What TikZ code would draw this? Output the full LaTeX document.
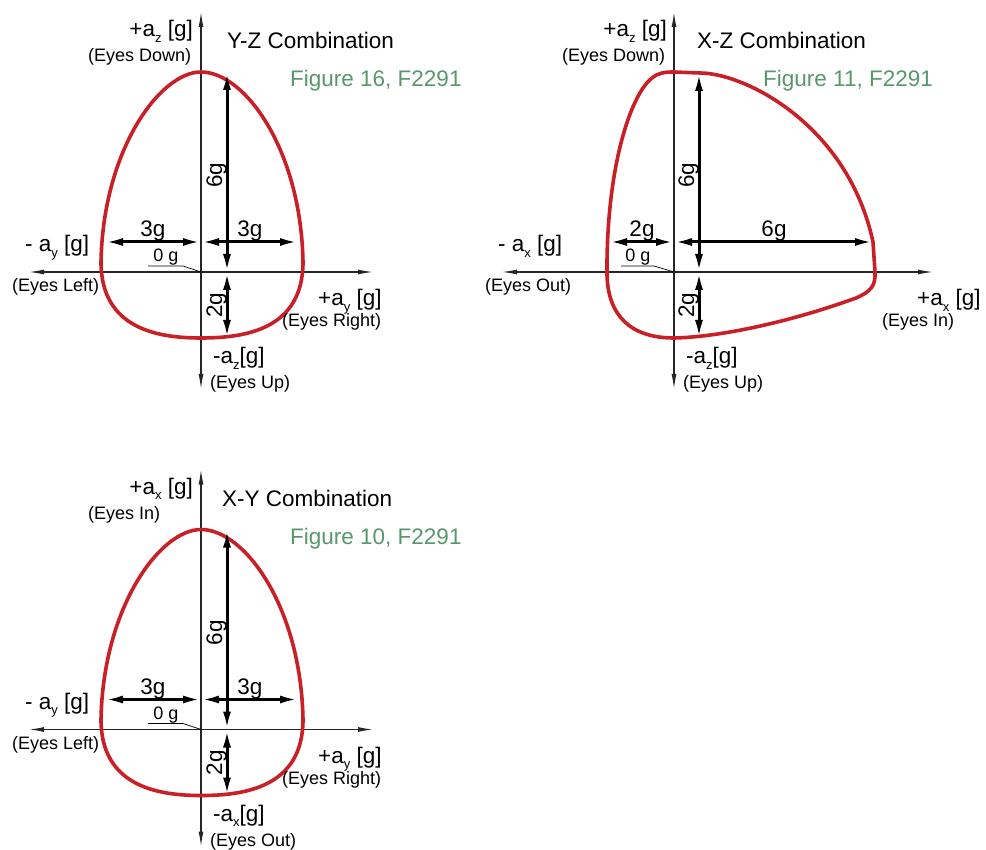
\documentclass[tikz,border=0pt]{standalone}
\usepackage{fontspec}
\setmainfont{Liberation Sans}
\usetikzlibrary{arrows.meta}
\definecolor{curvered}{RGB}{200,32,38}
\definecolor{figgreen}{RGB}{88,150,108}
\newcommand{\sbs}[1]{\raisebox{-0.45ex}{\fontsize{13}{13}\selectfont #1}}
\tikzset{
  axisline/.style={line width=1.2pt, draw=black!85, {Latex[length=15pt,width=5pt]}-{Latex[length=15pt,width=5pt]}},
  dimline/.style={line width=3pt, {Latex[length=18pt,width=8pt]}-{Latex[length=18pt,width=8pt]}},
  envelope/.style={draw=curvered, line width=3.6pt, line join=round},
  big/.style={font=\fontsize{22.5}{24}\selectfont, inner sep=0pt},
  mid/.style={font=\fontsize{18}{20}\selectfont, inner sep=0pt},
  fig/.style={big, text=figgreen},
  leader/.style={line width=0.7pt},
}
% symmetric egg diagram (axes origin at 201,272)
\newcommand{\eggplot}[1]{%
  \coordinate (#1-O) at (201,272);
  \coordinate (#1-N) at (201,12);
  \coordinate (#1-S) at (201,389);
  \coordinate (#1-W) at (29,272);
  \coordinate (#1-E) at (373,272);
  \draw[axisline] (#1-S) -- (#1-N);
  \draw[axisline] (#1-W) -- (#1-E);
  \draw[envelope] (201,72) .. controls (160,72) and (103,150) .. (101,262)
     .. controls (101,330) and (160,338) .. (201,338)
     .. controls (244,338) and (303,330) .. (303,262)
     .. controls (301,150) and (245,72) .. (201,72) -- cycle;
  \coordinate (#1-dT) at (227,72);
  \coordinate (#1-dO) at (227,272);
  \coordinate (#1-dB) at (227,338);
  \coordinate (#1-hL) at (105,242);
  \coordinate (#1-hO) at (201,242);
  \coordinate (#1-hR) at (298,242);
  \draw[dimline] (#1-dT) -- (#1-dO);
  \draw[dimline] (#1-dO) -- (#1-dB);
  \draw[dimline] (#1-hL) -- (#1-hO);
  \draw[dimline] (#1-hO) -- (#1-hR);
  \node[big, rotate=90, anchor=base] (#1-l6) at (222,175) {6g};
  \node[big, rotate=90, anchor=base] (#1-l2) at (222,305) {2g};
  \node[big, anchor=base] (#1-l3a) at (153,237) {3g};
  \node[big, anchor=base] (#1-l3b) at (250,237) {3g};
  \node[mid, anchor=base] (#1-zero) at (166,262) {0 g};
  \coordinate (#1-lk) at (183,266);
  \coordinate (#1-ls) at (148,266);
  \draw[leader] (#1-ls) -- (#1-lk) -- (#1-O);
}
\begin{document}
\begin{tikzpicture}[x=1pt, y=-1pt]
\useasboundingbox (0,0) rectangle (986,850);

% ---------- Y-Z (top left)
\eggplot{tl}
\node[big, anchor=base east] (tl-az) at (193,37) {+a\sbs{z} [g]};
\node[mid, anchor=base west] (tl-down) at (88,62) {(Eyes Down)};
\node[big, anchor=base west] (tl-title) at (227,49) {Y-Z Combination};
\node[fig, anchor=base west] (tl-fig) at (290,87) {Figure 16, F2291};
\node[big, anchor=base west] (tl-may) at (25,252) {- a\sbs{y} [g]};
\node[mid, anchor=base west] (tl-left) at (12,292) {(Eyes Left)};
\node[big, anchor=base west] (tl-pay) at (318,306) {+a\sbs{y} [g]};
\node[mid, anchor=base west] (tl-right) at (282,327) {(Eyes Right)};
\node[big, anchor=base west] (tl-maz) at (213,364) {-a\sbs{z}[g]};
\node[mid, anchor=base west] (tl-up) at (210,389) {(Eyes Up)};

% ---------- X-Z (top right)
\coordinate (tr-O) at (674,272);
\coordinate (tr-N) at (674,12);
\coordinate (tr-S) at (674,389);
\coordinate (tr-W) at (502,272);
\coordinate (tr-E) at (933,272);
\draw[axisline] (tr-S) -- (tr-N);
\draw[axisline] (tr-W) -- (tr-E);
\draw[envelope] (700,73) .. controls (745,73) and (848,125) .. (873,242)
   -- (875,272) .. controls (876,286) and (870,292) .. (856,298)
   .. controls (790,322) and (720,337) .. (674,338)
   .. controls (630,338) and (608,315) .. (607,275)
   .. controls (606,170) and (630,95) .. (652,78)
   .. controls (658,73) and (664,72) .. (674,72) -- cycle;
\coordinate (tr-dT) at (699,73);
\coordinate (tr-dO) at (699,272);
\coordinate (tr-dB) at (699,338);
\coordinate (tr-hL) at (609,242);
\coordinate (tr-hO) at (674,242);
\coordinate (tr-hR) at (873,242);
\draw[dimline] (tr-dT) -- (tr-dO);
\draw[dimline] (tr-dO) -- (tr-dB);
\draw[dimline] (tr-hL) -- (tr-hO);
\draw[dimline] (tr-hO) -- (tr-hR);
\node[big, rotate=90, anchor=base] (tr-l6) at (694,175) {6g};
\node[big, rotate=90, anchor=base] (tr-l2) at (694,305) {2g};
\node[big, anchor=base] (tr-l2h) at (642,237) {2g};
\node[big, anchor=base] (tr-l6h) at (774,237) {6g};
\node[mid, anchor=base] (tr-zero) at (638,262) {0 g};
\coordinate (tr-lk) at (654,266);
\coordinate (tr-ls) at (621,266);
\draw[leader] (tr-ls) -- (tr-lk) -- (tr-O);
\node[big, anchor=base east] (tr-az) at (667,37) {+a\sbs{z} [g]};
\node[mid, anchor=base west] (tr-down) at (562,62) {(Eyes Down)};
\node[big, anchor=base west] (tr-title) at (697,49) {X-Z Combination};
\node[fig, anchor=base west] (tr-fig) at (763,87) {Figure 11, F2291};
\node[big, anchor=base west] (tr-max) at (498,252) {- a\sbs{x} [g]};
\node[mid, anchor=base west] (tr-out) at (485,292) {(Eyes Out)};
\node[big, anchor=base west] (tr-pax) at (917,306) {+a\sbs{x} [g]};
\node[mid, anchor=base west] (tr-in) at (882,327) {(Eyes In)};
\node[big, anchor=base west] (tr-maz) at (686,364) {-a\sbs{z}[g]};
\node[mid, anchor=base west] (tr-up) at (683,389) {(Eyes Up)};

% ---------- X-Y (bottom left)
\begin{scope}[shift={(0,457.5)}]
\eggplot{bl}
\node[big, anchor=base east] (bl-ax) at (193,37) {+a\sbs{x} [g]};
\node[mid, anchor=base west] (bl-in) at (88,62) {(Eyes In)};
\node[big, anchor=base west] (bl-title) at (222,49) {X-Y Combination};
\node[fig, anchor=base west] (bl-fig) at (290,87) {Figure 10, F2291};
\node[big, anchor=base west] (bl-may) at (25,252) {- a\sbs{y} [g]};
\node[mid, anchor=base west] (bl-left) at (12,292) {(Eyes Left)};
\node[big, anchor=base west] (bl-pay) at (318,306) {+a\sbs{y} [g]};
\node[mid, anchor=base west] (bl-right) at (282,327) {(Eyes Right)};
\node[big, anchor=base west] (bl-max) at (213,364) {-a\sbs{x}[g]};
\node[mid, anchor=base west] (bl-out) at (210,389) {(Eyes Out)};
\end{scope}
\end{tikzpicture}
\end{document}
